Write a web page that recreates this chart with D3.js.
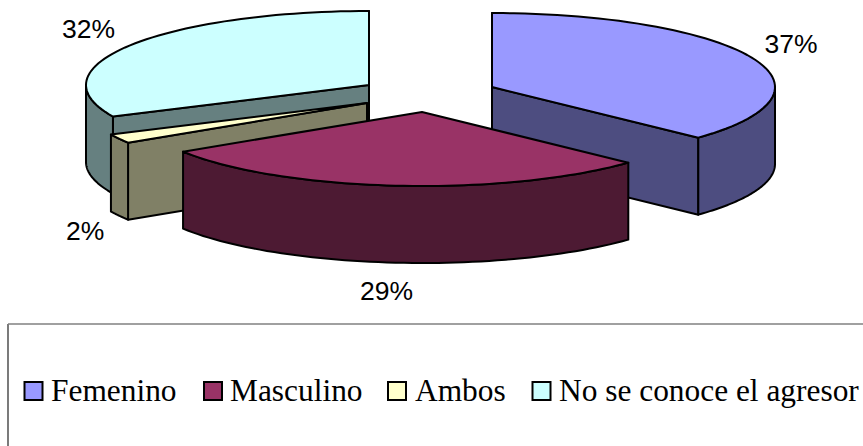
<!DOCTYPE html>
<html>
<head>
<meta charset="utf-8">
<script src="https://cdn.jsdelivr.net/npm/d3@7/dist/d3.min.js"></script>
<style>
  html, body { margin: 0; padding: 0; background: #fff; }
  svg { display: block; }
</style>
</head>
<body>
<svg id="chart" width="863" height="446"></svg>
<script>
// Agresor breakdown, in percent
const categories = ["Femenino", "Masculino", "Ambos", "No se conoce el agresor"];
const shares = [37, 29, 2, 32];

// Colours per slice: lid and darker wall
const lidColors = ["#9999FF", "#993366", "#FFFFCC", "#CCFFFF"];
const wallColors = ["#4D4D80", "#4D1A33", "#808066", "#668080"];

// Pie layout: ellipse radii, wall height and the exploded apex of each slice
const radiusX = 283, radiusY = 74, wallHeight = 77;
const apexes = [[492, 87], [422, 112], [367, 103], [369, 85]];
const labelSpots = [[764.5, 53], [360, 299.5], [66, 240], [62, 38]];
const legendSpots = [[24.5, 51], [204, 230], [388, 415], [532.5, 559]];

const svg = d3.select("#chart");
const pie = d3.pie().value(d => d).sort(null);
const arcs = pie(shares);

const line = d3.line();
const project = (apex, angle, drop = 0) => [
  apex[0] + radiusX * Math.sin(angle),
  apex[1] - radiusY * Math.cos(angle) + drop
];
const sweep = (apex, a0, a1, drop = 0) =>
  d3.range(0, 61).map(i => project(apex, a0 + (a1 - a0) * i / 60, drop));

const outline = sel => sel
  .attr("stroke", "#000")
  .attr("stroke-width", 2)
  .attr("stroke-linejoin", "round");

// Back slices first, so the front ones cover their walls
const drawOrder = [3, 0, 2, 1];
drawOrder.forEach(i => {
  const arc = arcs[i], apex = apexes[i];
  const g = svg.append("g").attr("class", "slice");
  const a0 = arc.startAngle, a1 = arc.endAngle;

  // Flat wall along a cut edge, drawn when its outward normal is not turned away
  [[a1, a1 + Math.PI / 2], [a0, a0 - Math.PI / 2]].forEach(([edge, normal]) => {
    if (Math.cos(normal) < 1e-6) {
      const rim = project(apex, edge);
      const pts = [apex, rim, [rim[0], rim[1] + wallHeight], [apex[0], apex[1] + wallHeight]];
      g.append("path").attr("d", line(pts) + "Z").attr("fill", wallColors[i]).call(outline);
    }
  });

  // Curved outer wall over the part of the rim turned toward the viewer
  const lo = Math.max(a0, Math.PI / 2), hi = Math.min(a1, Math.PI * 1.5);
  if (hi > lo) {
    const upper = sweep(apex, lo, hi);
    const lower = sweep(apex, hi, lo, wallHeight);
    g.append("path").attr("d", line(upper.concat(lower)) + "Z").attr("fill", wallColors[i]).call(outline);
  }

  // Lid
  const lid = [apex].concat(sweep(apex, a0, a1));
  g.append("path").attr("d", line(lid) + "Z").attr("fill", lidColors[i]).call(outline);
});

// Percentage labels
svg.append("g").selectAll("text").data(shares).join("text")
  .attr("x", (d, i) => labelSpots[i][0])
  .attr("y", (d, i) => labelSpots[i][1])
  .attr("font-family", "'Liberation Sans', Arial, sans-serif")
  .attr("font-size", 26.5)
  .attr("fill", "#000")
  .text(d => d + "%");

// Legend frame: only the top and left sides fall on the page
svg.append("path")
  .attr("d", "M8,446V324")
  .attr("fill", "none").attr("stroke", "#222").attr("stroke-width", 1.2);
svg.append("path")
  .attr("d", "M8,324H863")
  .attr("fill", "none").attr("stroke", "#808080").attr("stroke-width", 1.6);

const entry = svg.append("g").selectAll("g").data(categories).join("g");
entry.append("rect")
  .attr("x", (d, i) => legendSpots[i][0])
  .attr("y", 382)
  .attr("width", 18).attr("height", 18)
  .attr("fill", (d, i) => lidColors[i])
  .attr("stroke", "#000").attr("stroke-width", 2);
entry.append("text")
  .attr("x", (d, i) => legendSpots[i][1])
  .attr("y", 400.5)
  .attr("font-family", "'Liberation Serif', 'Times New Roman', serif")
  .attr("font-size", 31.4)
  .attr("fill", "#000")
  .text(d => d);
</script>
</body>
</html>
